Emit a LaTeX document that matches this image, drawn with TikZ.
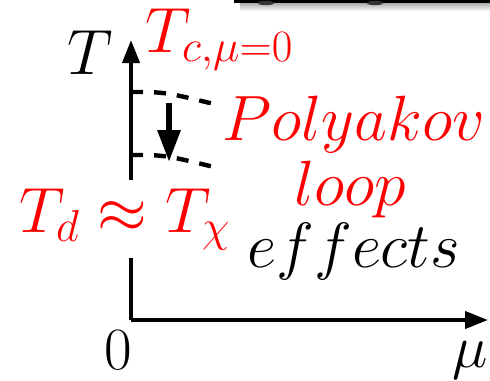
\RequirePackage{fix-cm}
\documentclass[tikz,border=0pt]{standalone}
\usepackage{amsmath}
\usepackage{tikz}
\usetikzlibrary{arrows.meta, positioning}

\begin{document}
\begin{tikzpicture}[
    x=0.5pt, y=-0.5pt,
    axis/.style={line width=2pt, -{Triangle[length=11.5pt, width=8.5pt]}},
    tickline/.style={line width=2.2pt, dash pattern=on 6pt off 5.5pt},
    shiftarr/.style={line width=3pt, -{Triangle[length=16pt, width=11pt]}},
    lbl/.style={font=\fontsize{32}{38}\selectfont, inner sep=1pt},
    redlbl/.style={lbl, text=red},
]
\useasboundingbox (0,0) rectangle (490,380);

%% cropped heading bar at the top
\shade[top color=black!35, bottom color=white] (240,2.5) rectangle (490,11);
\fill[black] (234,0) rectangle (490,2.5);
\fill[black!80] (266,3) ellipse (8 and 2.2);
\fill[black!80] (375,3) ellipse (8 and 2.2);

%% axes
\coordinate (orig)  at (131,320);
\coordinate (Ttip)  at (131,40);
\coordinate (mutip) at (488,320);
\draw[axis] (orig) -- (Ttip);
\draw[axis] (orig) -- (mutip);

%% transition lines
\coordinate (up0)  at (131,92);
\coordinate (up1)  at (218,105);
\coordinate (lo0)  at (131,155);
\coordinate (lo1)  at (218,168);
\draw[tickline] (up0) .. controls (165,92) .. (up1);
\draw[tickline] (lo0) .. controls (165,155) .. (lo1);

%% shift arrow
\coordinate (sh0) at (169,103);
\coordinate (sh1) at (169,162);
\draw[shiftarr] (sh0) -- (sh1);

%% labels
\node[lbl, anchor=base]         (Tlbl) at (90,74)   {$T$};
\node[redlbl, anchor=base west] (Tc)   at (143,52)  {$T_{c,\mu=0}$};
\node[redlbl, anchor=base]      (poly) at (354,140) {$Polyakov$};
\node[redlbl, anchor=base]      (loop) at (350,205) {$loop$};
\node[lbl, anchor=base]         (eff)  at (354,267) {$effects$};
\node[redlbl, anchor=base, fill=white, inner sep=4pt]
                                (Td)   at (125,232) {$T_d\approx T_\chi$};
\node[lbl, anchor=base, font=\fontsize{30}{36}\selectfont]
                                (zero) at (118,369) {$0$};
\node[lbl, anchor=base, font=\fontsize{30}{36}\selectfont]
                                (mu)   at (470,367) {$\mu$};
\end{tikzpicture}
\end{document}
